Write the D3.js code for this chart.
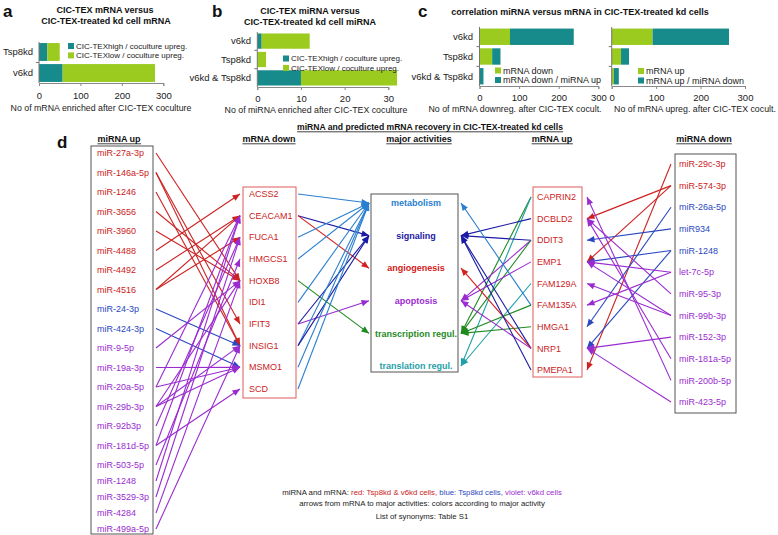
<!DOCTYPE html>
<html><head><meta charset="utf-8">
<script src="https://cdn.jsdelivr.net/npm/d3@7"></script>
<style>body{margin:0;background:#fff} text{font-family:Arial,"Liberation Sans",sans-serif}</style>
</head><body><svg id="c" width="778" height="535"></svg>
<script>
// ---------- data: bar panels ----------
const aCats=["Tsp8kd","v6kd"];
const aHigh=[20,57];          // CIC-TEXhigh / coculture upreg.
const aLow=[30,223];          // CIC-TEXlow / coculture upreg.
const aTicks=[0,100,200,300];
const bCats=["v6kd","Tsp8kd","v6kd & Tsp8kd"];
const bHigh=[1,0,10];
const bLow=[11,2,22];
const bTicks=[0,10,20,30];
const cCats=["v6kd","Tsp8kd","v6kd & Tsp8kd"];
const cDown=[77,32,0];        // mRNA down
const cDownMiUp=[161,21,10];  // mRNA down / miRNA up
const cUp=[92,21,5];          // mRNA up
const cUpMiDown=[172,18,11];  // mRNA up / miRNA down
const cTicks=[0,100,200,300];
// ---------- data: network ----------
const miUp=["miR-27a-3p","miR-146a-5p","miR-1246","miR-3656","miR-3960","miR-4488","miR-4492","miR-4516","miR-24-3p","miR-424-3p","miR-9-5p","miR-19a-3p","miR-20a-5p","miR-29b-3p","miR-92b3p","miR-181d-5p","miR-503-5p","miR-1248","miR-3529-3p","miR-4284","miR-499a-5p"];
const miUpGroup=["both","both","both","both","both","both","both","both","tsp","tsp","v6","v6","v6","v6","v6","v6","v6","v6","v6","v6","v6"];
const mDown=["ACSS2","CEACAM1","FUCA1","HMGCS1","HOXB8","IDI1","IFIT3","INSIG1","MSMO1","SCD"];
const activities=["metabolism","signaling","angiogenesis","apoptosis","transcription regul.","translation regul."];
const mUp=["CAPRIN2","DCBLD2","DDIT3","EMP1","FAM129A","FAM135A","HMGA1","NRP1","PMEPA1"];
const miDown=["miR-29c-3p","miR-574-3p","miR-26a-5p","miR934","miR-1248","let-7c-5p","miR-95-3p","miR-99b-3p","miR-152-3p","miR-181a-5p","miR-200b-5p","miR-423-5p"];
const miDownGroup=["both","both","tsp","tsp","tsp","v6","v6","v6","v6","v6","v6","v6"];
const linksMiUp=[["miR-27a-3p","HOXB8"],["miR-146a-5p","IFIT3"],["miR-146a-5p","INSIG1"],["miR-1246","INSIG1"],["miR-3656","HOXB8"],["miR-3960","HOXB8"],["miR-4488","ACSS2"],["miR-4492","CEACAM1"],["miR-4516","CEACAM1"],["miR-4516","FUCA1"],
 ["miR-24-3p","INSIG1"],["miR-424-3p","MSMO1"],
 ["miR-9-5p","HOXB8"],["miR-19a-3p","MSMO1"],["miR-20a-5p","MSMO1"],["miR-20a-5p","CEACAM1"],["miR-29b-3p","HOXB8"],["miR-29b-3p","INSIG1"],["miR-29b-3p","MSMO1"],["miR-92b3p","FUCA1"],["miR-181d-5p","SCD"],["miR-181d-5p","CEACAM1"],["miR-503-5p","HMGCS1"],["miR-1248","CEACAM1"],["miR-3529-3p","FUCA1"],["miR-4284","HOXB8"],["miR-499a-5p","INSIG1"]];
const linksDownAct=[["ACSS2","metabolism"],["CEACAM1","signaling"],["CEACAM1","angiogenesis"],["FUCA1","metabolism"],["HMGCS1","metabolism"],["HOXB8","transcription regul."],["IDI1","metabolism"],["IFIT3","signaling"],["IFIT3","apoptosis"],["INSIG1","metabolism"],["INSIG1","signaling"],["MSMO1","metabolism"],["SCD","metabolism"]];
const linksUpAct=[["CAPRIN2","transcription regul."],["CAPRIN2","translation regul."],["DCBLD2","signaling"],["DDIT3","signaling"],["DDIT3","apoptosis"],["DDIT3","transcription regul."],["EMP1","apoptosis"],["FAM129A","translation regul."],["FAM135A","metabolism"],["FAM135A","transcription regul."],["HMGA1","transcription regul."],["NRP1","signaling"],["NRP1","angiogenesis"],["NRP1","apoptosis"],["PMEPA1","signaling"]];
const linksMiDown=[["miR-29c-3p","PMEPA1"],["miR-574-3p","DCBLD2"],["miR-574-3p","EMP1"],["miR-26a-5p","HMGA1"],["miR934","DDIT3"],["miR-1248","EMP1"],["miR-1248","NRP1"],["let-7c-5p","FAM135A"],["let-7c-5p","EMP1"],["miR-95-3p","DCBLD2"],["miR-99b-3p","EMP1"],["miR-99b-3p","FAM129A"],["miR-152-3p","NRP1"],["miR-181a-5p","DCBLD2"],["miR-200b-5p","CAPRIN2"],["miR-423-5p","NRP1"]];

// ---------- styles ----------
const TEAL="#178b8b", LIME="#9acb1e";
const groupColor=d3.scaleOrdinal().domain(["both","tsp","v6"]).range(["#cc2222","#2a48c0","#9a2bd0"]);
const actColor=d3.scaleOrdinal().domain(activities).range(["#2a7fd0","#1a1aa6","#d42020","#9a2bd0","#1f8a1f","#1fa0a6"]);

const svg=d3.select("#c");
svg.append("rect").attr("width",778).attr("height",535).attr("fill","#fff");

// markers
const defs=svg.append("defs");
const markerColors=[...groupColor.range(),...actColor.range()];
const mid=c=>"m"+c.replace("#","");
markerColors.forEach(c=>{
  defs.append("marker").attr("id",mid(c)).attr("viewBox","-8 -4 9 8")
    .attr("refX",0).attr("refY",0).attr("markerWidth",9).attr("markerHeight",8)
    .attr("markerUnits","userSpaceOnUse").attr("orient","auto")
    .append("path").attr("d","M0,0L-7.5,-3.2L-7.5,3.2Z").attr("fill",c);
});

// ---------- bar chart helper ----------
function bars(o){
  const g=svg.append("g");
  const x=d3.scaleLinear().domain([0,o.max]).range([o.x0,o.x1]);
  const y=d3.scaleBand().domain(o.cats).range([o.y0,o.y1]).paddingInner(o.pi).paddingOuter(o.po);
  const rows=o.cats.map((c,i)=>({cat:c,first:o.s1[i],second:o.s2[i]}));
  const st=d3.stack().keys(["first","second"])(rows);
  const cols=[o.c1,o.c2];
  st.forEach((layer,k)=>{
    g.selectAll(null).data(layer).enter().append("rect")
      .attr("x",d=>x(d[0])).attr("width",d=>x(d[1])-x(d[0]))
      .attr("y",d=>y(d.data.cat)).attr("height",y.bandwidth()).attr("fill",cols[k]);
  });
  const ax=g.append("g").attr("transform",`translate(0,${o.y1})`)
    .call(d3.axisBottom(x).tickValues(o.ticks).tickSize(3).tickPadding(o.tp).tickFormat(d3.format("d")));
  ax.select(".domain").attr("stroke","#888");
  ax.selectAll(".tick line").attr("stroke","#888");
  ax.selectAll("text").attr("font-size","9.5px").attr("fill","#222").attr("font-family","Arial");
  // left axis
  g.append("line").attr("x1",o.x0).attr("x2",o.x0).attr("y1",o.y0).attr("y2",o.y1).attr("stroke","#777");
  const bounds=o.cats.slice(1).map(c=>y(c)-y.step()*y.paddingInner()/2);
  g.selectAll(null).data(bounds).enter().append("line").attr("x1",o.x0-3).attr("x2",o.x0)
    .attr("y1",d=>d).attr("y2",d=>d).attr("stroke","#777");
  if(o.showCats){
    g.selectAll(null).data(o.cats).enter().append("text").attr("x",o.catX)
      .attr("y",d=>y(d)+y.bandwidth()/2).attr("dy","0.35em").attr("text-anchor","end")
      .attr("font-size","9.5px").attr("fill","#222").text(d=>d);
  }
  g.append("text").attr("x",o.labX).attr("y",o.labY).attr("text-anchor","middle")
    .attr("font-size","8.8px").attr("fill","#222").text(o.label);
  o.legend.forEach((L,i)=>{
    g.append("rect").attr("x",o.legX).attr("y",o.legY+i*o.legDy-3).attr("width",6).attr("height",6).attr("fill",cols[i]);
    g.append("text").attr("x",o.legX+8).attr("y",o.legY+i*o.legDy).attr("dy","0.35em")
      .attr("font-size",o.legFs||"9px").attr("fill","#222").text(L);
  });
}
function title(x,y,t,size,anchor){
  return svg.append("text").attr("x",x).attr("y",y).attr("text-anchor",anchor||"middle")
   .attr("font-weight","bold").attr("font-size",size||"9px").attr("fill","#111").text(t);
}
// panel a
title(3,17,"a","17px","start");
title(105,13,"CIC-TEX mRNA  versus");
title(106,24,"CIC-TEX-treated kd cell mRNA");
bars({cats:aCats,s1:aHigh,s2:aLow,max:300,x0:39,x1:163.3,y0:42,y1:83,pi:0.15,po:0.05,c1:TEAL,c2:LIME,
  ticks:aTicks,tp:6,showCats:true,catX:33,label:"No of mRNA enriched after CIC-TEX coculture",labX:101,labY:111,
  legend:["CIC-TEXhigh / coculture upreg.","CIC-TEXlow / coculture upreg."],legX:68,legY:46,legDy:9.4,legFs:"8px"});
// panel b
title(212,17,"b","17px","start");
title(310,14,"CIC-TEX miRNA  versus");
title(310,25,"CIC-TEX-treated kd cell miRNA");
bars({cats:bCats,s1:bHigh,s2:bLow,max:30,x0:257.3,x1:388.3,y0:32,y1:87,pi:0.17,po:0.08,c1:TEAL,c2:LIME,
  ticks:bTicks,tp:5,showCats:true,catX:251,label:"No of miRNA enriched after CIC-TEX coculture",labX:316,labY:113,
  legend:["CIC-TEXhigh / coculture upreg.","CIC-TEXlow / coculture upreg."],legX:283,legY:58.5,legDy:9.4,legFs:"8px"});
// panel c
title(418,17,"c","17px","start");
title(580,15,"correlation miRNA versus mRNA in CIC-TEX-treated kd cells");
bars({cats:cCats,s1:cDown,s2:cDownMiUp,max:300,x0:479.5,x1:598.3,y0:27,y1:86,pi:0.17,po:0.08,c1:LIME,c2:TEAL,
  ticks:cTicks,tp:5,showCats:true,catX:473,label:"No of mRNA downreg. after CIC-TEX cocult.",labX:515,labY:112,
  legend:["mRNA down","mRNA down / miRNA up"],legX:495,legY:70.5,legDy:9.5});
bars({cats:cCats,s1:cUp,s2:cUpMiDown,max:300,x0:611.7,x1:745,y0:27,y1:86,pi:0.17,po:0.08,c1:LIME,c2:TEAL,
  ticks:cTicks,tp:5,showCats:false,label:"No of mRNA upreg. after CIC-TEX cocult.",labX:695,labY:112,
  legend:["mRNA up","mRNA up / miRNA down"],legX:638,legY:71,legDy:9.5});

// ---------- panel d ----------
title(57,148,"d","17px","start");
function uTitle(x,y,t,size){
  const tx=title(x,y,t,size);
  const bb=tx.node().getBBox();
  svg.append("line").attr("x1",bb.x).attr("x2",bb.x+bb.width).attr("y1",y+1.8).attr("y2",y+1.8)
    .attr("stroke","#111").attr("stroke-width",0.8);
}
uTitle(430,130,"miRNA and predicted mRNA recovery in CIC-TEX-treated kd cells","8.6px");
uTitle(119,142,"miRNA up");
uTitle(269,142,"mRNA down");
uTitle(419,142,"major activities");
uTitle(552,142,"mRNA up");
uTitle(704,142,"miRNA down");

const yMiUpIdx=d3.scaleLinear().domain([0,16,20]).range([153,465,529]);
const yMiUp=n=>yMiUpIdx(miUp.indexOf(n));
const yMDown=d3.scalePoint().domain(mDown).range([194,389]);
const yAct=d3.scalePoint().domain(activities).range([203,366]);
const yMUp=d3.scalePoint().domain(mUp).range([197,370]);
const yMiDown=d3.scalePoint().domain(miDown).range([164,402]);

function box(x,y,w,h,c){svg.append("rect").attr("x",x).attr("y",y).attr("width",w).attr("height",h)
  .attr("fill","none").attr("stroke",c).attr("stroke-width",1);}
box(91,146,62,388,"#555");
box(243,187,53,211,"#e05a5a");
box(371,194,87,178,"#555");
box(533,187,49,190,"#e05a5a");
box(675,154,61,259,"#555");

function arrows(links,x1,x2,ys,yt,colorFn){
  svg.append("g").selectAll("line").data(links).enter().append("line")
    .attr("x1",x1).attr("x2",x2).attr("y1",d=>ys(d[0])).attr("y2",d=>yt(d[1]))
    .attr("stroke",d=>colorFn(d)).attr("stroke-width",1.1)
    .attr("marker-end",d=>`url(#${mid(colorFn(d))})`);
}
arrows(linksMiUp,156,240,yMiUp,n=>yMDown(n),d=>groupColor(miUpGroup[miUp.indexOf(d[0])]));
arrows(linksDownAct,298,369,n=>yMDown(n),n=>yAct(n),d=>actColor(d[1]));
arrows(linksUpAct,531,461,n=>yMUp(n),n=>yAct(n),d=>actColor(d[1]));
arrows(linksMiDown,671,587,n=>yMiDown(n),n=>yMUp(n),d=>groupColor(miDownGroup[miDown.indexOf(d[0])]));

function labels(list,x,yf,colf,anchor,weight){
  svg.append("g").selectAll("text").data(list).enter().append("text")
    .attr("x",x).attr("y",d=>yf(d)).attr("dy","0.35em").attr("text-anchor",anchor||"start")
    .attr("font-weight",weight||"normal").attr("font-size","9px").attr("fill",(d,i)=>colf(d,i)).text(d=>d);
}
labels(miUp,97,yMiUp,(d,i)=>groupColor(miUpGroup[i]));
labels(mDown,249,n=>yMDown(n),()=>groupColor("both"));
labels(activities,416,n=>yAct(n),d=>actColor(d),"middle","bold");
labels(mUp,537,n=>yMUp(n),()=>groupColor("both"));
labels(miDown,679,n=>yMiDown(n),(d,i)=>groupColor(miDownGroup[i]));

// footer
const f1=svg.append("text").attr("x",422).attr("y",495).attr("text-anchor","middle").attr("font-size","7.8px");
f1.append("tspan").attr("fill","#222").text("miRNA and mRNA: ");
f1.append("tspan").attr("fill",groupColor("both")).text("red: Tsp8kd & v6kd cells, ");
f1.append("tspan").attr("fill",groupColor("tsp")).text("blue: Tsp8kd cells, ");
f1.append("tspan").attr("fill",groupColor("v6")).text("violet: v6kd cells");
svg.append("text").attr("x",422).attr("y",505.5).attr("text-anchor","middle").attr("font-size","7.8px").attr("fill","#222")
  .text("arrows from mRNA to major activities: colors according to major activity");
svg.append("text").attr("x",422).attr("y",519).attr("text-anchor","middle").attr("font-size","7.8px").attr("fill","#222")
  .text("List of synonyms: Table S1");
</script></body></html>
